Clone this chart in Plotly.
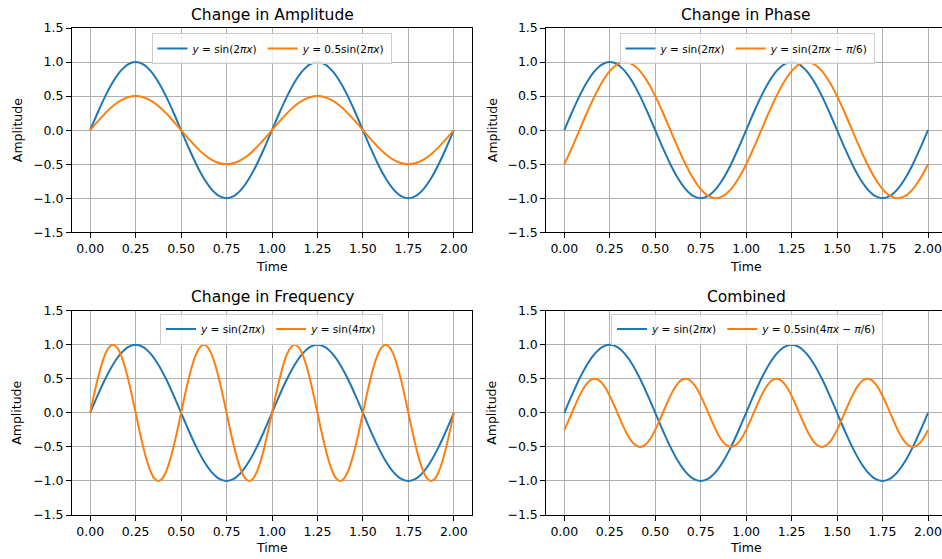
import plotly.graph_objects as go

# ---------------- data ----------------
time = [0, 0.0417, 0.0833, 0.125, 0.1667, 0.2083, 0.25, 0.2917, 0.3333, 0.375, 0.4167, 0.4583,
        0.5, 0.5417, 0.5833, 0.625, 0.6667, 0.7083, 0.75, 0.7917, 0.8333, 0.875, 0.9167, 0.9583,
        1.0, 1.0417, 1.0833, 1.125, 1.1667, 1.2083, 1.25, 1.2917, 1.3333, 1.375, 1.4167, 1.4583,
        1.5, 1.5417, 1.5833, 1.625, 1.6667, 1.7083, 1.75, 1.7917, 1.8333, 1.875, 1.9167, 1.9583,
        2.0]

time_fine = [0, 0.0208, 0.0417, 0.0625, 0.0833, 0.1042, 0.125, 0.1458, 0.1667, 0.1875, 0.2083, 0.2292,
             0.25, 0.2708, 0.2917, 0.3125, 0.3333, 0.3542, 0.375, 0.3958, 0.4167, 0.4375, 0.4583, 0.4792,
             0.5, 0.5208, 0.5417, 0.5625, 0.5833, 0.6042, 0.625, 0.6458, 0.6667, 0.6875, 0.7083, 0.7292,
             0.75, 0.7708, 0.7917, 0.8125, 0.8333, 0.8542, 0.875, 0.8958, 0.9167, 0.9375, 0.9583, 0.9792,
             1.0, 1.0208, 1.0417, 1.0625, 1.0833, 1.1042, 1.125, 1.1458, 1.1667, 1.1875, 1.2083, 1.2292,
             1.25, 1.2708, 1.2917, 1.3125, 1.3333, 1.3542, 1.375, 1.3958, 1.4167, 1.4375, 1.4583, 1.4792,
             1.5, 1.5208, 1.5417, 1.5625, 1.5833, 1.6042, 1.625, 1.6458, 1.6667, 1.6875, 1.7083, 1.7292,
             1.75, 1.7708, 1.7917, 1.8125, 1.8333, 1.8542, 1.875, 1.8958, 1.9167, 1.9375, 1.9583, 1.9792,
             2.0]

sin_2pi = [0, 0.259, 0.5, 0.707, 0.866, 0.966, 1.0, 0.966, 0.866, 0.707, 0.5, 0.259,
           0, -0.259, -0.5, -0.707, -0.866, -0.966, -1.0, -0.966, -0.866, -0.707, -0.5, -0.259,
           0, 0.259, 0.5, 0.707, 0.866, 0.966, 1.0, 0.966, 0.866, 0.707, 0.5, 0.259,
           0, -0.259, -0.5, -0.707, -0.866, -0.966, -1.0, -0.966, -0.866, -0.707, -0.5, -0.259,
           0]

half_sin_2pi = [0, 0.129, 0.25, 0.354, 0.433, 0.483, 0.5, 0.483, 0.433, 0.354, 0.25, 0.129,
                0, -0.129, -0.25, -0.354, -0.433, -0.483, -0.5, -0.483, -0.433, -0.354, -0.25, -0.129,
                0, 0.129, 0.25, 0.354, 0.433, 0.483, 0.5, 0.483, 0.433, 0.354, 0.25, 0.129,
                0, -0.129, -0.25, -0.354, -0.433, -0.483, -0.5, -0.483, -0.433, -0.354, -0.25, -0.129,
                0]

phase_sin = [-0.5, -0.259, 0, 0.259, 0.5, 0.707, 0.866, 0.966, 1.0, 0.966, 0.866, 0.707,
             0.5, 0.259, 0, -0.259, -0.5, -0.707, -0.866, -0.966, -1.0, -0.966, -0.866, -0.707,
             -0.5, -0.259, 0, 0.259, 0.5, 0.707, 0.866, 0.966, 1.0, 0.966, 0.866, 0.707,
             0.5, 0.259, 0, -0.259, -0.5, -0.707, -0.866, -0.966, -1.0, -0.966, -0.866, -0.707,
             -0.5]

# sampled on time_fine
freq_sin = [0, 0.259, 0.5, 0.707, 0.866, 0.966, 1.0, 0.966, 0.866, 0.707, 0.5, 0.259,
            0, -0.259, -0.5, -0.707, -0.866, -0.966, -1.0, -0.966, -0.866, -0.707, -0.5, -0.259,
            0, 0.259, 0.5, 0.707, 0.866, 0.966, 1.0, 0.966, 0.866, 0.707, 0.5, 0.259,
            0, -0.259, -0.5, -0.707, -0.866, -0.966, -1.0, -0.966, -0.866, -0.707, -0.5, -0.259,
            0, 0.259, 0.5, 0.707, 0.866, 0.966, 1.0, 0.966, 0.866, 0.707, 0.5, 0.259,
            0, -0.259, -0.5, -0.707, -0.866, -0.966, -1.0, -0.966, -0.866, -0.707, -0.5, -0.259,
            0, 0.259, 0.5, 0.707, 0.866, 0.966, 1.0, 0.966, 0.866, 0.707, 0.5, 0.259,
            0, -0.259, -0.5, -0.707, -0.866, -0.966, -1.0, -0.966, -0.866, -0.707, -0.5, -0.259,
            0]

combined_sin = [-0.25, -0.129, 0, 0.129, 0.25, 0.354, 0.433, 0.483, 0.5, 0.483, 0.433, 0.354,
                0.25, 0.129, 0, -0.129, -0.25, -0.354, -0.433, -0.483, -0.5, -0.483, -0.433, -0.354,
                -0.25, -0.129, 0, 0.129, 0.25, 0.354, 0.433, 0.483, 0.5, 0.483, 0.433, 0.354,
                0.25, 0.129, 0, -0.129, -0.25, -0.354, -0.433, -0.483, -0.5, -0.483, -0.433, -0.354,
                -0.25, -0.129, 0, 0.129, 0.25, 0.354, 0.433, 0.483, 0.5, 0.483, 0.433, 0.354,
                0.25, 0.129, 0, -0.129, -0.25, -0.354, -0.433, -0.483, -0.5, -0.483, -0.433, -0.354,
                -0.25, -0.129, 0, 0.129, 0.25, 0.354, 0.433, 0.483, 0.5, 0.483, 0.433, 0.354,
                0.25, 0.129, 0, -0.129, -0.25, -0.354, -0.433, -0.483, -0.5, -0.483, -0.433, -0.354,
                -0.25]

titles = ["Change in Amplitude", "Change in Phase", "Change in Frequency", "Combined"]
label_base = "<i>y</i> = sin(2<i>πx</i>)"
label_second = ["<i>y</i> = 0.5sin(2<i>πx</i>)",
                "<i>y</i> = sin(2<i>πx</i> − <i>π</i>/6)",
                "<i>y</i> = sin(4<i>πx</i>)",
                "<i>y</i> = 0.5sin(4<i>πx</i> − <i>π</i>/6)"]
second_series = [half_sin_2pi, phase_sin, freq_sin, combined_sin]
second_time = [time, time, time_fine, time_fine]

x_tick_vals = [0, 0.25, 0.5, 0.75, 1.0, 1.25, 1.5, 1.75, 2.0]
y_tick_vals = [-1.5, -1.0, -0.5, 0.0, 0.5, 1.0, 1.5]

# ---------------- layout geometry ----------------
W, H = 942, 559
BLUE, ORANGE = "#1f77b4", "#ff7f0e"
FONT = "DejaVu Sans"

col_dom = [[72 / W, 472 / W], [546.3 / W, 1.0]]
col_rng = [[-0.1, 2.1], [-0.099, 2.077]]
row_dom = [[1 - 232.3 / H, 1 - 28 / H], [1 - 515 / H, 1 - 310.7 / H]]
leg_x = [271.5 / W, 747 / W]
leg_top = [1 - 33 / H, 1 - 313.5 / H]
title_y = [1 - 14.5 / H, 1 - 297.2 / H]
time_y = [1 - 266 / H, 1 - 547.5 / H]
amp_x = [17 / W, 492 / W]

fig = go.Figure()
annotations = []
layout = dict(
    width=W, height=H,
    margin=dict(l=0, r=0, t=0, b=0, pad=0, autoexpand=False),
    paper_bgcolor="white", plot_bgcolor="white",
    font=dict(family=FONT, color="#000000", size=12.5),
)

for i in range(4):
    r, c = divmod(i, 2)
    n = i + 1
    xa = "x" if n == 1 else f"x{n}"
    ya = "y" if n == 1 else f"y{n}"
    leg = "legend" if n == 1 else f"legend{n}"
    fig.add_trace(go.Scatter(x=time, y=sin_2pi, mode="lines", name=label_base,
                             line=dict(color=BLUE, width=2, shape="spline"),
                             xaxis=xa, yaxis=ya, legend=leg))
    fig.add_trace(go.Scatter(x=second_time[i], y=second_series[i], mode="lines", name=label_second[i],
                             line=dict(color=ORANGE, width=2, shape="spline"),
                             xaxis=xa, yaxis=ya, legend=leg))
    axis_common = dict(showline=True, mirror=True, linecolor="black", linewidth=1,
                       ticks="outside", ticklen=5, tickwidth=1, tickcolor="black",
                       showgrid=True, gridcolor="#b0b0b0", gridwidth=1, zeroline=False,
                       automargin=False,
                       tickfont=dict(family=FONT, size=12.5, color="#000000"))
    layout["xaxis" if n == 1 else f"xaxis{n}"] = dict(
        axis_common, domain=col_dom[c], range=col_rng[c], tickvals=x_tick_vals,
        tickformat=".2f", anchor=ya)
    layout["yaxis" if n == 1 else f"yaxis{n}"] = dict(
        axis_common, domain=row_dom[r], range=[-1.5, 1.5], tickvals=y_tick_vals,
        tickformat=".1f", anchor=xa)
    layout[leg] = dict(orientation="h", x=leg_x[c], xanchor="center",
                       y=leg_top[r], yanchor="top",
                       bgcolor="rgba(255,255,255,0.8)", bordercolor="#cccccc", borderwidth=1,
                       font=dict(family=FONT, size=10.5, color="#000000"),
                       tracegroupgap=0)
    xc = (col_dom[c][0] + (472 / W if c == 0 else 946 / W)) / 2
    annotations.append(dict(text=titles[i], x=xc, y=title_y[r], xref="paper", yref="paper",
                            showarrow=False, xanchor="center", yanchor="middle",
                            font=dict(family=FONT, size=15.5, color="#000000")))
    annotations.append(dict(text="Time", x=xc, y=time_y[r], xref="paper", yref="paper",
                            showarrow=False, xanchor="center", yanchor="middle",
                            font=dict(family=FONT, size=12.5, color="#000000")))
    annotations.append(dict(text="Amplitude", x=amp_x[c],
                            y=(row_dom[r][0] + row_dom[r][1]) / 2, xref="paper", yref="paper",
                            showarrow=False, xanchor="center", yanchor="middle", textangle=-90,
                            font=dict(family=FONT, size=12.5, color="#000000")))

layout["annotations"] = annotations
fig.update_layout(**layout)
fig.write_html("out.html")
